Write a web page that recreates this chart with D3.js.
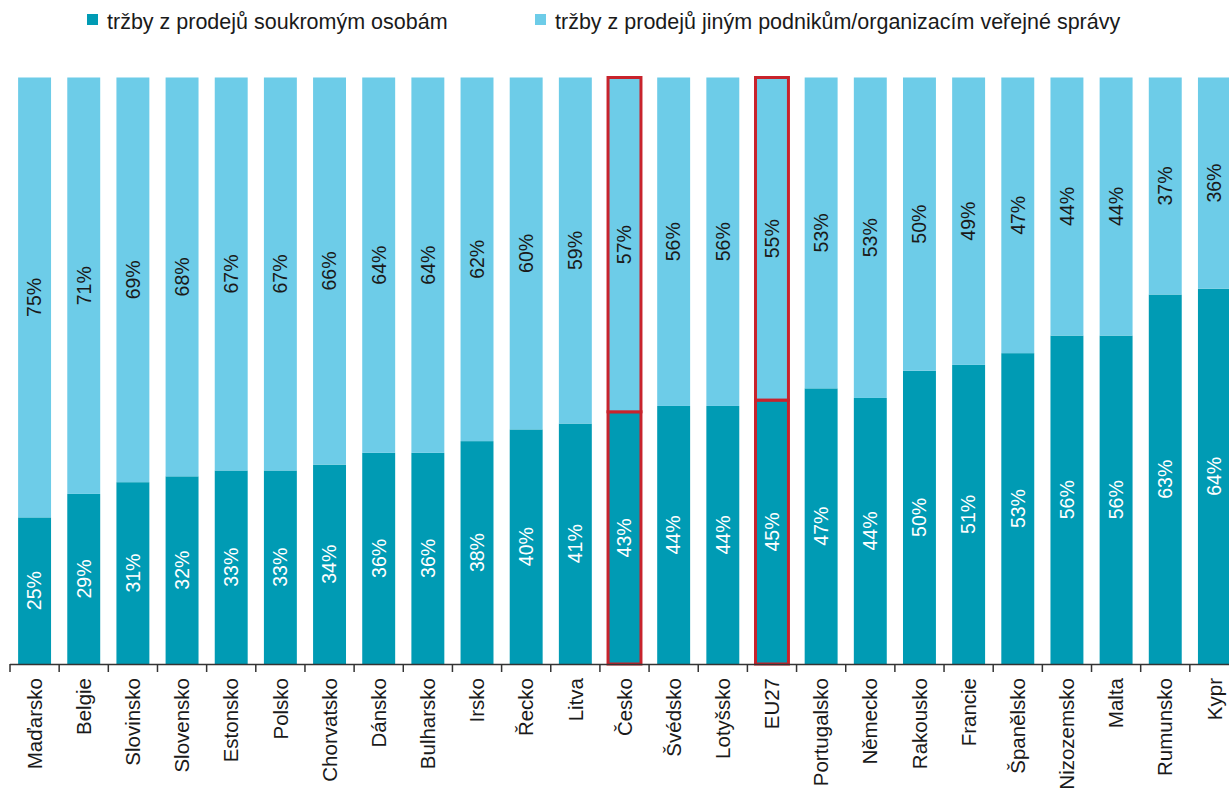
<!DOCTYPE html>
<html>
<head>
<meta charset="utf-8">
<script src="https://cdn.jsdelivr.net/npm/d3@7"></script>
<style>
	body { margin: 0; background: white; overflow: hidden; }
	text { font-family: "Liberation Sans", Arial, sans-serif; }
</style>
</head>
<body>
<div id="chart"></div>
<script>

var categories = ['Maďarsko', 'Belgie', 'Slovinsko', 'Slovensko', 'Estonsko', 'Polsko', 'Chorvatsko', 'Dánsko', 'Bulharsko', 'Irsko', 'Řecko', 'Litva', 'Česko', 'Švédsko', 'Lotyšsko', 'EU27', 'Portugalsko', 'Německo', 'Rakousko', 'Francie', 'Španělsko', 'Nizozemsko', 'Malta', 'Rumunsko', 'Kypr'];
var privateSales = [25, 29, 31, 32, 33, 33, 34, 36, 36, 38, 40, 41, 43, 44, 44, 45, 47, 44, 50, 51, 53, 56, 56, 63, 64];
var businessSales = [75, 71, 69, 68, 67, 67, 66, 64, 64, 62, 60, 59, 57, 56, 56, 55, 53, 53, 50, 49, 47, 44, 44, 37, 36];
var highlighted = ['Česko', 'EU27'];
var seriesNames = ['tržby z prodejů soukromým osobám', 'tržby z prodejů jiným podnikům/organizacím veřejné správy'];

var width = 1229, height = 789;
var colors = ['#009bb4', '#6dcce8'];
var red = '#c8232c';

var rows = categories.map(function(c, i) {
	return {cat: c, a: privateSales[i], b: businessSales[i]};
});

// shares are normalised to 100 % like in the source
var stack = d3.stack().keys(['a', 'b']).offset(d3.stackOffsetExpand);
var series = stack(rows);

var x = d3.scaleBand().domain(categories).range([10, 1239]).paddingInner(0.33).paddingOuter(0.165);
var y = d3.scaleLinear().domain([0, 1]).range([664, 77.5]);

var svg = d3.select('#chart').append('svg')
	.attr('width', width)
	.attr('height', height);

var groups = svg.selectAll('.serie').data(series).enter().append('g')
	.attr('class', 'serie')
	.attr('fill', function(d, i) {return colors[i]});

groups.selectAll('rect').data(function(d) {return d}).enter().append('rect')
	.attr('x', function(d) {return x(d.data.cat)})
	.attr('width', x.bandwidth())
	.attr('y', function(d) {return y(d[1])})
	.attr('height', function(d) {return y(d[0]) - y(d[1])})
	.attr('stroke', function(d) {return highlighted.indexOf(d.data.cat) >= 0 ? red : 'none'})
	.attr('stroke-width', 3);

// value labels
groups.selectAll('text').data(function(d) {return d.map(function(p) {p.key = d.key; return p})}).enter().append('text')
	.attr('transform', function(d) {
		var cx = x(d.data.cat) + x.bandwidth() / 2;
		var cy = (y(d[0]) + y(d[1])) / 2;
		return 'translate(' + cx + ',' + cy + ') rotate(-90)';
	})
	.attr('text-anchor', 'middle')
	.attr('dy', '0.35em')
	.attr('font-size', '19.5px')
	.attr('fill', function(d) {return d.key == 'a' ? 'white' : '#1a1a1a'})
	.text(function(d) {return d.data[d.key] + '%'});

// x axis
var step = x.step();
var tickXs = categories.map(function(c) {return x(c) - x.paddingInner() * step / 2});
tickXs.push(tickXs[tickXs.length - 1] + step);

var axis = svg.append('g');
axis.append('line')
	.attr('x1', 10).attr('x2', width)
	.attr('y1', 664.5).attr('y2', 664.5)
	.attr('stroke', '#333')
	.attr('stroke-width', 1.5);

axis.selectAll('.tick').data(tickXs).enter().append('line')
	.attr('class', 'tick')
	.attr('x1', function(d) {return d}).attr('x2', function(d) {return d})
	.attr('y1', 664).attr('y2', 672)
	.attr('stroke', '#333')
	.attr('stroke-width', 1.5);

axis.selectAll('.lab').data(categories).enter().append('text')
	.attr('class', 'lab')
	.attr('transform', function(d) {return 'translate(' + (x(d) + x.bandwidth() / 2) + ',678) rotate(-90)'})
	.attr('text-anchor', 'end')
	.attr('dy', '0.35em')
	.attr('font-size', '20.5px')
	.attr('fill', '#1a1a1a')
	.text(function(d) {return d});

// legend
var legendX = [87, 535];
var legend = svg.selectAll('.legend').data(seriesNames).enter().append('g')
	.attr('class', 'legend')
	.attr('transform', function(d, i) {return 'translate(' + legendX[i] + ',14)'});

legend.append('rect')
	.attr('width', 11)
	.attr('height', 11)
	.attr('fill', function(d, i) {return colors[i]});

legend.append('text')
	.attr('x', 20)
	.attr('y', 15)
	.attr('font-size', '21.5px')
	.attr('fill', '#1a1a1a')
	.text(function(d) {return d});

</script>
</body>
</html>
